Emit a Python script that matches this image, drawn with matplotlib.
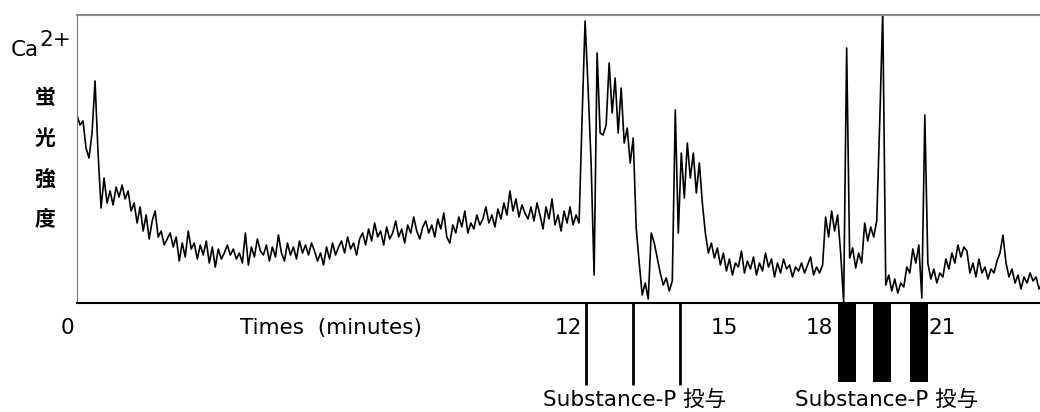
import numpy as np
import matplotlib
matplotlib.use("Agg")
import matplotlib.pyplot as plt
from matplotlib.patches import Rectangle

plt.rcParams['font.family'] = ['DejaVu Sans', 'Noto Sans CJK JP']

# ---- data (Ca2+ fluorescence intensity, arbitrary units; time in minutes) ----
T_END = 23.4
intensity = [
    188, 178, 182, 155, 145, 170, 222, 150, 95, 125, 100, 112, 98, 116, 106, 118,
    104, 112, 92, 100, 80, 96, 72, 88, 64, 82, 92, 66, 72, 58, 64, 70,
    56, 66, 42, 60, 46, 72, 54, 60, 44, 58, 48, 62, 40, 56, 36, 54,
    44, 50, 58, 48, 54, 44, 50, 40, 70, 38, 56, 46, 64, 52, 48, 58,
    42, 56, 46, 68, 50, 42, 60, 48, 56, 44, 62, 50, 58, 48, 60, 52,
    42, 50, 38, 56, 44, 60, 48, 56, 62, 50, 66, 54, 60, 48, 64, 70,
    58, 74, 62, 80, 66, 72, 58, 76, 64, 70, 82, 66, 74, 60, 78, 70,
    86, 72, 64, 76, 82, 70, 78, 66, 84, 74, 90, 66, 60, 78, 70, 86,
    76, 92, 70, 80, 74, 88, 78, 84, 96, 80, 88, 76, 94, 84, 100, 88,
    112, 92, 104, 86, 98, 90, 84, 96, 82, 100, 88, 74, 96, 84, 104, 78,
    88, 72, 92, 80, 96, 78, 88, 80, 185, 282, 215, 140, 28, 250, 170, 168,
    178, 240, 190, 225, 170, 215, 160, 175, 140, 165, 75, 40, 8, 20, 4, 70,
    60, 45, 30, 18, 25, 12, 22, 193, 70, 150, 105, 160, 125, 150, 110, 140,
    100, 70, 50, 60, 45, 55, 38, 50, 32, 44, 28, 40, 36, 52, 30, 42,
    34, 46, 28, 40, 32, 50, 36, 44, 26, 40, 30, 44, 34, 38, 26, 36,
    32, 40, 30, 38, 46, 28, 36, 30, 38, 86, 66, 92, 72, 88, 50, 1,
    255, 45, 55, 35, 50, 40, 80, 62, 76, 66, 82, 181, 292, 18, 28, 12,
    24, 10, 20, 16, 36, 30, 54, 40, 58, 5, 188, 40, 24, 34, 20, 30,
    26, 44, 34, 50, 40, 58, 46, 56, 52, 30, 40, 26, 44, 30, 36, 24,
    34, 30, 42, 50, 68, 40, 26, 34, 20, 28, 14, 26, 20, 30, 22, 26,
    14, 20,
]
time_min = np.linspace(0, T_END, len(intensity))

# stimulus (Substance-P) applications, minutes
pulse_times = [12.35, 13.49, 14.63]
bar_starts = [18.44, 19.30, 20.19]
bar_ends = [18.88, 19.73, 20.63]

tick_labels = ['0', '12', '15', '18', '21']
tick_label_pos = [-0.24, 11.91, 15.70, 18.01, 20.97]

# ---- figure ----
W, H = 1040, 412
FS = 15.5
fig = plt.figure(figsize=(W / 100, H / 100), dpi=100)
ax = fig.add_axes([77 / W, (H - 303) / H, 1 - 77 / W + 0.002, 288 / H])

ax.plot(time_min, intensity, color='black', linewidth=1.2)
ax.set_xlim(0, T_END)
ax.set_ylim(0, 288)
ax.set_xticks([])
ax.set_yticks([])
ax.spines['right'].set_visible(False)
ax.spines['top'].set_color('#8a8a8a')
ax.spines['top'].set_linewidth(1.6)
ax.spines['left'].set_color('#777777')
ax.spines['left'].set_linewidth(0.8)
ax.spines['bottom'].set_color('black')
ax.spines['bottom'].set_linewidth(1.5)

trans = ax.get_xaxis_transform()
# pulse lines below axis
for t in pulse_times:
    ax.plot([t, t], [0, -82 / 288], transform=trans, color='black',
            linewidth=2.0, clip_on=False, solid_capstyle='butt')
# bars below axis
for s, e in zip(bar_starts, bar_ends):
    ax.add_patch(Rectangle((s, -79 / 288), e - s, 79 / 288, transform=trans,
                           facecolor='black', edgecolor='none', clip_on=False))

# tick labels
for lab, pos in zip(tick_labels, tick_label_pos):
    ax.text(pos, -25 / 288, lab, transform=trans, ha='center', va='center',
            fontsize=FS, color='black')

ax.text((330 - 77) / 41.15, -25 / 288, 'Times  (minutes)', transform=trans,
        ha='center', va='center', fontsize=FS, color='black')

ax.text((542 - 77) / 41.15, -97 / 288, 'Substance-P 投与', transform=trans,
        ha='left', va='center', fontsize=FS, color='black')
ax.text((793 - 77) / 41.15, -97 / 288, 'Substance-P 投与', transform=trans,
        ha='left', va='center', fontsize=FS, color='black')

# y label
fig.text(11 / W, 1 - 50 / H, 'Ca', ha='left', va='center', fontsize=FS)
fig.text(39 / W, 1 - 40 / H, '2+', ha='left', va='center', fontsize=FS)
for ch, yy in zip(['蛍', '光', '強', '度'], [97, 138, 179, 220]):
    fig.text(45 / W, 1 - yy / H, ch, ha='center', va='center', fontsize=15,
             fontweight='bold', family=['Noto Sans CJK JP', 'DejaVu Sans'])

fig.savefig('out.png', dpi=100, facecolor='white')
